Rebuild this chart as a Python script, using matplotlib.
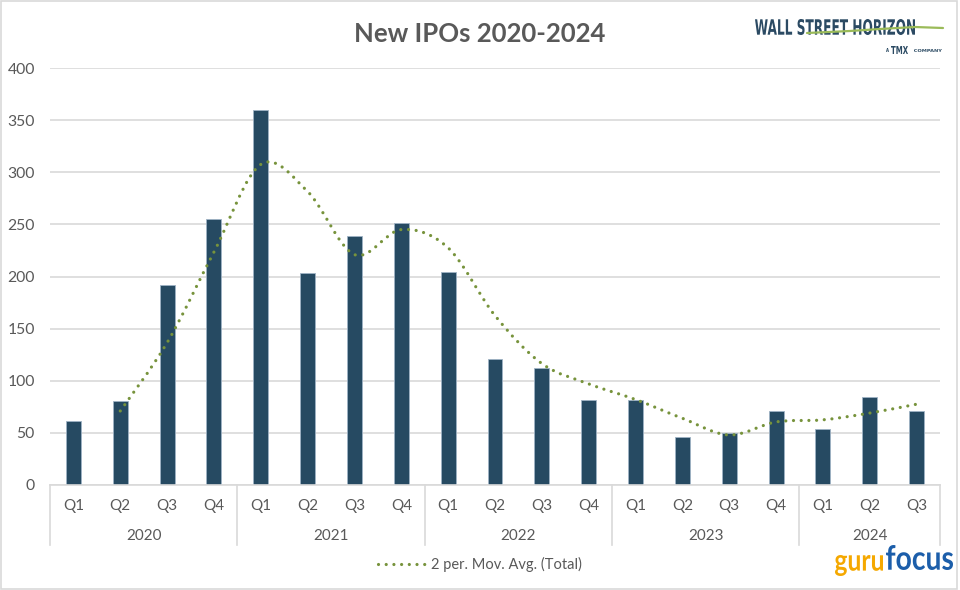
import matplotlib.pyplot as plt
import numpy as np
from matplotlib.path import Path
from matplotlib.patches import PathPatch
from matplotlib.lines import Line2D
from matplotlib.textpath import TextPath
from matplotlib.font_manager import FontProperties
import matplotlib.transforms as mtransforms

plt.rcParams['font.family'] = ['Lato', 'DejaVu Sans']

# data
quarters = ["Q1", "Q2", "Q3", "Q4",
            "Q1", "Q2", "Q3", "Q4",
            "Q1", "Q2", "Q3", "Q4",
            "Q1", "Q2", "Q3", "Q4",
            "Q1", "Q2", "Q3"]
years = ["2020", "2021", "2022", "2023", "2024"]
quarters_per_year = [4, 4, 4, 4, 3]
ipos = [61, 81, 192, 255, 360, 203, 239, 251, 204, 121, 112, 82,
        82, 46, 50, 71, 54, 84, 71]
# 2 period moving average (starts at the 2nd quarter)
mov_avg = [71, 136.5, 223.5, 307.5, 281.5, 221, 245, 227.5, 162.5, 116.5,
           97, 82, 64, 48, 60.5, 62.5, 69, 77.5]

BAR = "#264A62"
GREEN = "#77933C"
GREY = "#595959"
GRID = "#D9D9D9"
W, H = 960, 590   # figure size in pixels

fig = plt.figure(figsize=(9.6, 5.9), dpi=100)
ax = fig.add_axes([50 / W, 105 / H, 890 / W, 417 / H])

x = np.arange(len(ipos))
ax.bar(x, ipos, width=0.32, color=BAR, edgecolor="#9FB3C5", linewidth=0.6, zorder=2)


def smooth_path(xs, ys):
    # catmull-rom style bezier through the points (like excel "smoothed line")
    pts = np.column_stack([xs, ys]).astype(float)
    ext = np.vstack([pts[0], pts, pts[-1]])
    verts = [pts[0]]
    codes = [Path.MOVETO]
    for i in range(1, len(ext) - 2):
        p0, p1, p2, p3 = ext[i - 1], ext[i], ext[i + 1], ext[i + 2]
        verts += [p1 + (p2 - p0) / 6, p2 - (p3 - p1) / 6, p2]
        codes += [Path.CURVE4] * 3
    return Path(verts, codes)


dot_style = dict(color=GREEN, linewidth=2.3, linestyle=(0, (0.01, 2.4)))
patch = PathPatch(smooth_path(x[1:], mov_avg), fill=False, edgecolor=GREEN,
                  linewidth=2.3, linestyle=(0, (0.01, 2.4)), capstyle="round", zorder=3)
ax.add_patch(patch)

ax.set_xlim(-0.5, len(ipos) - 0.5)
ax.set_ylim(0, 400)
ax.set_yticks(range(0, 401, 50))
ax.yaxis.grid(True, color=GRID, linewidth=1.2)
ax.set_axisbelow(True)
for s in ["top", "right", "left"]:
    ax.spines[s].set_visible(False)
ax.spines["bottom"].set_color(GRID)
ax.spines["bottom"].set_linewidth(1.2)
ax.tick_params(axis="y", length=0, pad=11, labelsize=11.3, labelcolor=GREY)
ax.set_xticks(x)
ax.set_xticklabels(quarters)
ax.tick_params(axis="x", length=0, pad=10, labelsize=11, labelcolor=GREY)

# year grouping below the quarter labels
trans = mtransforms.blended_transform_factory(ax.transData, ax.transAxes)
edges = np.concatenate([[0], np.cumsum(quarters_per_year)]) - 0.5
for e in edges:
    ax.plot([e, e], [0, -0.145], transform=trans, color=GRID, lw=1.2, clip_on=False)
for i, yr in enumerate(years):
    ax.text((edges[i] + edges[i + 1]) / 2, -0.123, yr, transform=trans,
            ha="center", va="center", fontsize=11, color=GREY)

handle = Line2D([], [], dash_capstyle="round", **dot_style)
leg = ax.legend([handle], ["2 per. Mov. Avg. (Total)"], loc="center",
                bbox_to_anchor=(0.483, -0.19), frameon=False, fontsize=10.5,
                handlelength=3.2, handletextpad=0.4)
for t in leg.get_texts():
    t.set_color(GREY)

fig.text(0.5, 1 - 34 / H, "New IPOs 2020-2024", ha="center", va="center",
         fontsize=18.5, fontweight="bold", color=GREY)


def logo_text(s, x0, x1, top, bottom, color, weight="bold", family="DejaVu Sans"):
    # text squeezed into a pixel box (top/bottom counted from the top edge)
    fp = FontProperties(family=family, weight=weight)
    tp = TextPath((0, 0), s, size=100, prop=fp)
    ext = tp.get_extents()
    sx = (x1 - x0) / ext.width / W
    sy = (bottom - top) / ext.height / H
    tr = mtransforms.Affine2D().translate(-ext.x0, -ext.y0).scale(sx, sy) \
        .translate(x0 / W, (H - bottom) / H)
    fig.add_artist(PathPatch(tp, facecolor=color, edgecolor="none",
                             transform=tr + fig.transFigure))


# Wall Street Horizon logo
logo_text("WALL STREET HORIZON", 755, 915, 19, 35, "#2B4A63")
fig.add_artist(Line2D(np.array([807, 850, 880, 915, 943]) / W,
                      1 - np.array([33, 31, 29, 27, 28]) / H,
                      color="#9BBB59", lw=1.6, solid_capstyle="round"))
logo_text("A", 886, 889, 48, 52, "#2B4A63")
logo_text("TMX", 891, 908, 46, 54, "#2B4A63")
logo_text("COMPANY", 914, 942, 49, 52, "#2B4A63")

# gurufocus logo
logo_text("guru", 835, 883, 555, 576, "#F5A800", family="Lato")
logo_text("focus", 886, 953, 545, 570, "#1C5EAA", family="Lato")

# chart area border
fig.add_artist(plt.Rectangle((0.001, 0.002), 0.996, 0.996, transform=fig.transFigure,
                             fill=False, edgecolor=GRID, lw=1.2))

fig.savefig("out.png", dpi=100)
